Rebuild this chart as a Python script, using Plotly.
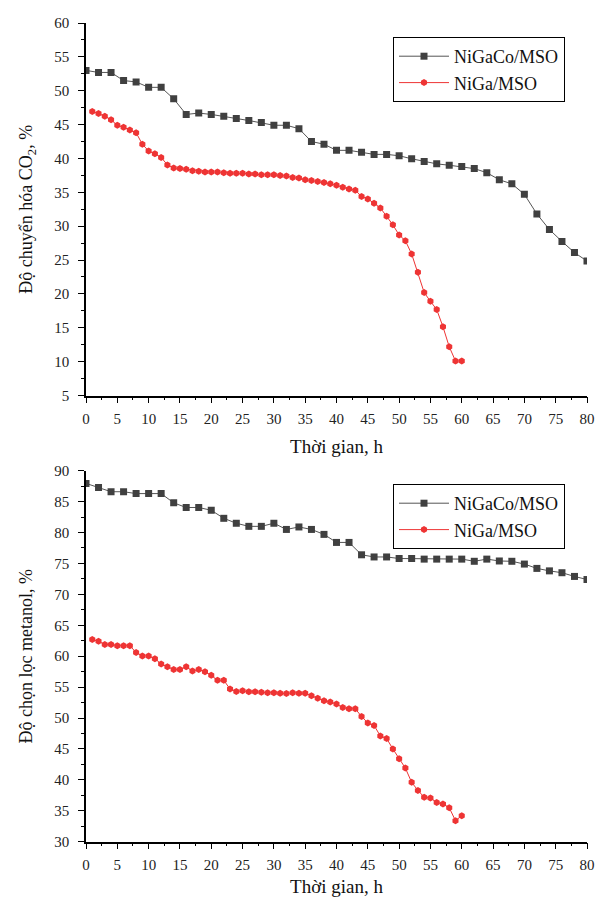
import plotly.graph_objects as go

# ---- data ----
time_co = list(range(0, 81, 2))
time_ga = list(range(1, 61))

conv_nigaco = [53.0, 52.7, 52.7, 51.5, 51.3, 50.5, 50.5, 48.8, 46.5, 46.7,
               46.5, 46.25, 45.9, 45.6, 45.3, 44.9, 44.9, 44.4, 42.5, 42.1,
               41.2, 41.2, 40.9, 40.6, 40.6, 40.4, 39.95, 39.55, 39.2, 39.0,
               38.8, 38.5, 37.9, 36.85, 36.25, 34.7, 31.8, 29.5, 27.75, 26.1,
               24.85]
conv_niga = [46.95, 46.65, 46.25, 45.7, 44.9, 44.6, 44.2, 43.8, 42.1, 41.1,
             40.7, 40.15, 39.05, 38.6, 38.5, 38.4, 38.2, 38.1, 38.0, 38.0,
             38.0, 37.9, 37.8, 37.8, 37.8, 37.7, 37.7, 37.6, 37.6, 37.6,
             37.5, 37.4, 37.2, 37.1, 36.85, 36.75, 36.6, 36.45, 36.25, 36.05,
             35.75, 35.5, 35.3, 34.4, 34.0, 33.4, 32.7, 31.45, 30.2, 28.7,
             27.85, 25.9, 23.2, 20.2, 18.9, 17.7, 15.15, 12.2, 10.1, 10.1]
sel_nigaco = [87.95, 87.3, 86.6, 86.6, 86.3, 86.3, 86.3, 84.8, 84.05, 84.05,
              83.6, 82.3, 81.5, 81.0, 81.0, 81.5, 80.5, 80.9, 80.5, 79.7,
              78.4, 78.4, 76.4, 76.05, 76.05, 75.8, 75.8, 75.7, 75.7, 75.7,
              75.7, 75.35, 75.7, 75.4, 75.35, 74.9, 74.2, 73.8, 73.5, 72.9,
              72.4]
sel_niga = [62.7, 62.4, 61.9, 61.9, 61.7, 61.7, 61.7, 60.6, 60.05, 60.05,
            59.6, 58.75, 58.3, 57.85, 57.85, 58.3, 57.6, 57.85, 57.5, 56.9,
            56.1, 56.1, 54.7, 54.3, 54.4, 54.25, 54.25, 54.15, 54.1, 54.1,
            54.0, 53.95, 54.1, 54.0, 54.0, 53.6, 53.2, 52.8, 52.6, 52.25,
            51.7, 51.5, 51.5, 50.25, 49.2, 48.8, 47.1, 46.7, 45.0, 43.4,
            41.9, 39.6, 38.3, 37.2, 37.05, 36.35, 36.1, 35.5, 33.4, 34.2]

name_co = "NiGaCo/MSO"
name_ga = "NiGa/MSO"
x_title = "Thời gian, h"
y_title_top = "Độ chuyển hóa CO<sub>2</sub>, %"
y_title_bot = "Độ chọn lọc metanol, %"

# ---- styles ----
FONT = "Liberation Serif, Times New Roman, serif"
GRAY = "#404040"
GRAY_LINE = "#555555"
RED = "#EE3434"
W, H = 597, 897

fig = go.Figure()
fig.add_trace(go.Scatter(x=time_co, y=conv_nigaco, name=name_co, mode="lines+markers",
                         line=dict(color=GRAY_LINE, width=1),
                         marker=dict(symbol="square", size=7, color=GRAY),
                         xaxis="x", yaxis="y", legend="legend"))
fig.add_trace(go.Scatter(x=time_ga, y=conv_niga, name=name_ga, mode="lines+markers",
                         line=dict(color=RED, width=1),
                         marker=dict(symbol="hexagon", size=7, color=RED),
                         xaxis="x", yaxis="y", legend="legend"))
fig.add_trace(go.Scatter(x=time_co, y=sel_nigaco, name=name_co, mode="lines+markers",
                         line=dict(color=GRAY_LINE, width=1),
                         marker=dict(symbol="square", size=7, color=GRAY),
                         xaxis="x2", yaxis="y2", legend="legend2"))
fig.add_trace(go.Scatter(x=time_ga, y=sel_niga, name=name_ga, mode="lines+markers",
                         line=dict(color=RED, width=1),
                         marker=dict(symbol="hexagon", size=7, color=RED),
                         xaxis="x2", yaxis="y2", legend="legend2"))

xdom = [86 / W, 587 / W]
ydom_top = [1 - 395.5 / H, 1 - 23 / H]
ydom_bot = [1 - 841.7 / H, 1 - 470.7 / H]

def xaxis(anchor):
    return dict(domain=xdom, anchor=anchor, range=[0, 80], tickmode="linear", tick0=0, dtick=5,
                showline=True, linecolor="black", linewidth=1.5, mirror=False,
                ticks="outside", ticklen=6, tickwidth=1.2, tickcolor="black",
                minor=dict(ticks="outside", ticklen=3, tickwidth=1, tickcolor="black", dtick=2.5),
                showgrid=False, zeroline=False, ticklabelstandoff=3,
                tickfont=dict(family=FONT, size=15, color="#222"),
                title=dict(text=x_title, font=dict(family=FONT, size=19, color="#111"), standoff=13))

def yaxis(anchor, dom, rng, title):
    return dict(domain=dom, anchor=anchor, range=rng, tickmode="linear", tick0=0, dtick=5,
                showline=True, linecolor="black", linewidth=1.5, mirror=False,
                ticks="outside", ticklen=6, tickwidth=1.2, tickcolor="black",
                minor=dict(ticks="outside", ticklen=3, tickwidth=1, tickcolor="black", dtick=2.5),
                showgrid=False, zeroline=False, ticklabelstandoff=6,
                tickfont=dict(family=FONT, size=15, color="#222"),
                title=dict(text=title, font=dict(family=FONT, size=18, color="#111"), standoff=17))

legend_style = dict(bgcolor="white", bordercolor="black", borderwidth=1,
                    font=dict(family=FONT, size=18, color="#111"),
                    xanchor="left", yanchor="top", itemwidth=50,
                    tracegroupgap=0)

fig.update_layout(
    width=W, height=H, autosize=False,
    margin=dict(l=0, r=0, t=0, b=0, autoexpand=False),
    paper_bgcolor="white", plot_bgcolor="white",
    xaxis=xaxis("y"),
    yaxis=yaxis("x", ydom_top, [5, 60], y_title_top),
    xaxis2=xaxis("y2"),
    yaxis2=yaxis("x2", ydom_bot, [30, 90], y_title_bot),
    legend=dict(x=393 / W, y=1 - 37 / H, **legend_style),
    legend2=dict(x=393 / W, y=1 - 484 / H, **legend_style),
)

fig.write_html("out.html")
